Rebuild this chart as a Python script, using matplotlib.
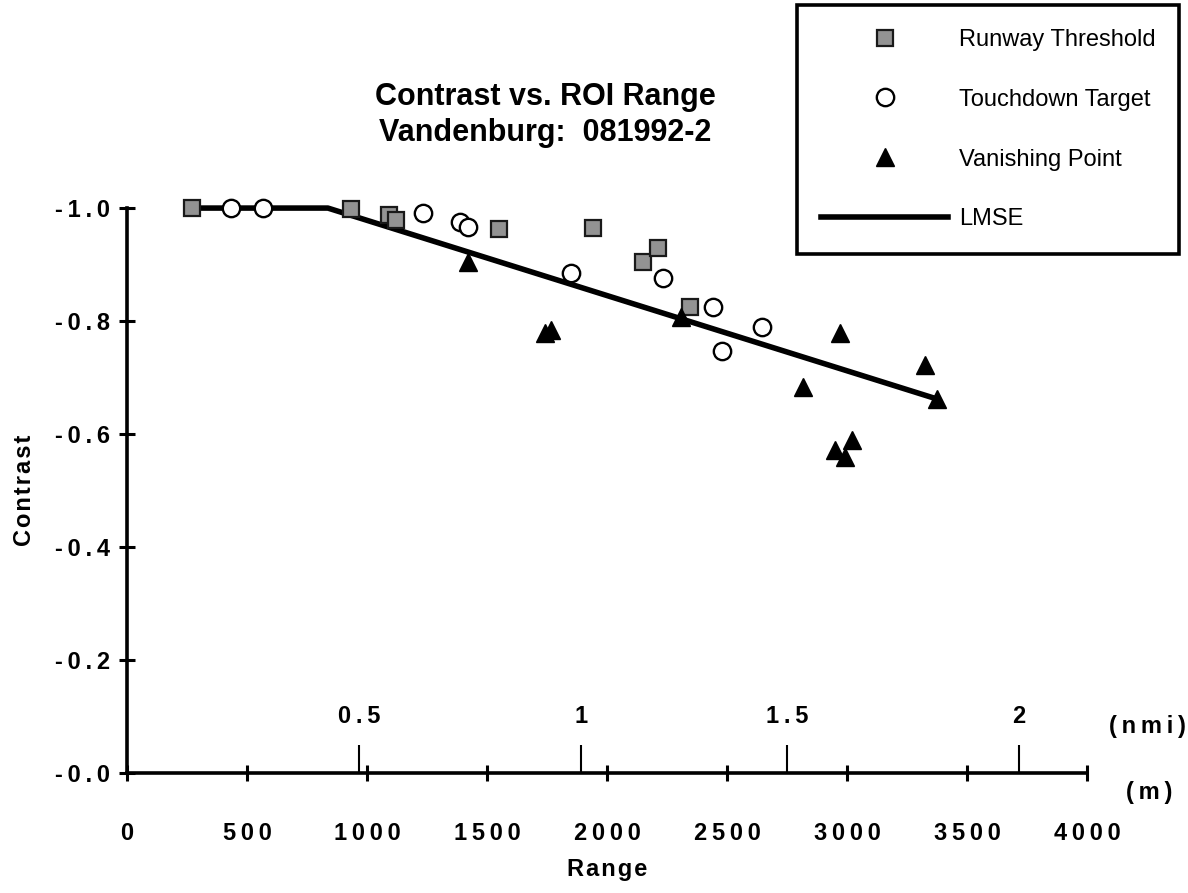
import numpy as np
import matplotlib.pyplot as plt
from matplotlib.lines import Line2D

plt.rcParams['font.family'] = ['Liberation Sans', 'DejaVu Sans']

# Runway Threshold (range in m, contrast)
runway_x = [271, 933, 1092, 1121, 1550, 1942, 2150, 2212, 2346]
runway_y = [-1.0, -0.998, -0.988, -0.979, -0.963, -0.965, -0.904, -0.929, -0.825]

# Touchdown Target
touch_x = [433, 567, 1233, 1388, 1421, 1850, 2233, 2442, 2646, 2479]
touch_y = [-1.0, -1.0, -0.991, -0.975, -0.966, -0.885, -0.876, -0.825, -0.789, -0.747]

# Vanishing Point
vanish_x = [1421, 1742, 1767, 2308, 2971, 2817, 3325, 3375, 3021, 2950, 2992]
vanish_y = [-0.904, -0.779, -0.784, -0.807, -0.779, -0.683, -0.722, -0.662, -0.589, -0.572, -0.559]

# LMSE fit line (flat, then linear)
lmse_x = [271, 837, 3375]
lmse_y = [-1.0, -1.0, -0.662]

# x tick labels (m) and y tick labels
x_ticks = [0, 500, 1000, 1500, 2000, 2500, 3000, 3500, 4000]
y_ticks = [0, -0.2, -0.4, -0.6, -0.8, -1.0]
y_labels = ['-0.0', '-0.2', '-0.4', '-0.6', '-0.8', '-1.0']

# nautical mile marks, as drawn on the original (in m)
nmi_pos = [967, 1892, 2750, 3717]
nmi_labels = ['0.5', '1', '1.5', '2']


def spaced(s, sp='\u2009'):
    # old plotting software spread the letters out a bit
    return sp.join(s)


fig = plt.figure(figsize=(11.88, 8.93), dpi=100)
ax = fig.add_axes([0.1069, 0.1344, 0.8081, 0.6326])

ax.plot(lmse_x, lmse_y, color='black', lw=4, solid_capstyle='round', zorder=2, clip_on=False)
ax.plot(runway_x, runway_y, ls='none', marker='s', ms=12, mfc='#939393', mec='#1a1a1a',
        mew=1.6, zorder=3, clip_on=False)
ax.plot(touch_x, touch_y, ls='none', marker='o', ms=12.5, mfc='white', mec='black',
        mew=1.7, zorder=3, clip_on=False)
ax.plot(vanish_x, vanish_y, ls='none', marker='^', ms=12.5, mfc='black', mec='black',
        zorder=3, clip_on=False)

ax.set_xlim(0, 4000)
ax.set_ylim(0, -1.0)

for s in ['top', 'right']:
    ax.spines[s].set_visible(False)
for s in ['left', 'bottom']:
    ax.spines[s].set_linewidth(2.6)

ax.set_xticks(x_ticks)
ax.set_xticklabels([spaced(str(t)) for t in x_ticks], fontsize=17, fontweight='bold')
ax.set_yticks(y_ticks)
ax.set_yticklabels([spaced(l) for l in y_labels], fontsize=17, fontweight='bold')
ax.tick_params(axis='both', direction='inout', length=12, width=2.2)
ax.tick_params(axis='x', pad=29)
ax.tick_params(axis='y', pad=6)

# nmi scale drawn on top of the x axis
ax.vlines(nmi_pos, 0, -0.05, color='black', lw=1.5)
for p, lab in zip(nmi_pos, nmi_labels):
    ax.text(p, -0.1, spaced(lab), ha='center', va='center', fontsize=17, fontweight='bold')
ax.text(1.063, 0.082, spaced('(nmi)'), transform=ax.transAxes, ha='center', va='center',
        fontsize=17, fontweight='bold')
ax.text(1.065, -0.035, spaced('(m)'), transform=ax.transAxes, ha='center', va='center',
        fontsize=17, fontweight='bold')

ax.set_xlabel(spaced('Range', '\u200a'), fontsize=17, fontweight='bold', labelpad=10)
ax.set_ylabel(spaced('Contrast', '\u200a'), fontsize=17, fontweight='bold', labelpad=14)

fig.text(0.459, 0.891, 'Contrast vs. ROI Range', ha='center', va='center',
         fontsize=22, fontweight='bold')
fig.text(0.459, 0.851, 'Vandenburg:  081992-2', ha='center', va='center',
         fontsize=22, fontweight='bold')

handles = [
    Line2D([], [], ls='none', marker='s', ms=12, mfc='#939393', mec='#1a1a1a', mew=1.6),
    Line2D([], [], ls='none', marker='o', ms=12.5, mfc='white', mec='black', mew=1.7),
    Line2D([], [], ls='none', marker='^', ms=12.5, mfc='black', mec='black'),
    Line2D([], [], color='black', lw=4),
]
labels = ['Runway Threshold', 'Touchdown Target', 'Vanishing Point', 'LMSE']
leg = fig.legend(handles, labels, loc='upper left', bbox_to_anchor=(0.671, 0.994),
                 fontsize=17, handlelength=5.4, labelspacing=1.6, handletextpad=0.45,
                 borderpad=1.0, frameon=True, fancybox=False, framealpha=1,
                 edgecolor='black', borderaxespad=0)
leg.get_frame().set_linewidth(2.6)

fig.savefig('out.png', dpi=100, facecolor='white')
